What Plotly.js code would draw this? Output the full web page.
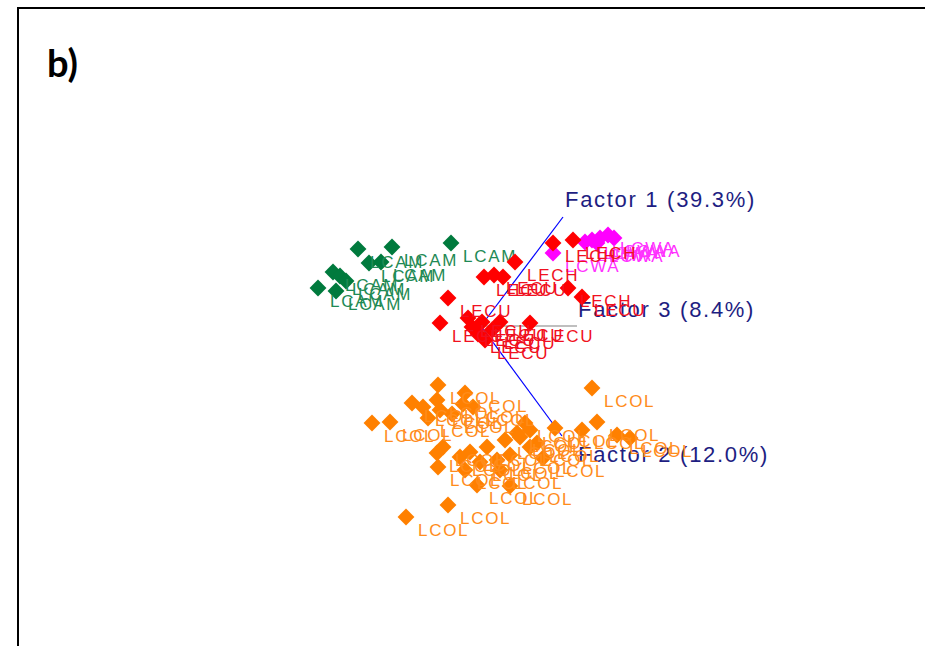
<!DOCTYPE html>
<html>
<head>
<meta charset="utf-8">
<script src="https://cdn.plot.ly/plotly-3.0.1.min.js"></script>
<style>
  html, body { margin: 0; padding: 0; background: #fff; }
  #chart { width: 925px; height: 646px; }
  .textpoint text { letter-spacing: 1.7px; }
</style>
</head>
<body>
<div id="chart"></div>
<script>
// Factor scores (projected onto the plane of the biplot)
const camLabel = 'LCAM';
const camX = [-1.23, -0.89, -0.30, -1.12, -1.00, -1.48, -1.41, -1.35, -1.63, -1.45];
const camY = [0.77, 0.79, 0.83, 0.63, 0.64, 0.54, 0.50, 0.45, 0.38, 0.35];

const ecuLabels = ['LECH', 'LECH', 'LECH', 'LECU', 'LECU', 'LECU', 'LECH', 'LECU', 'LECU', 'LECU', 'LECU',
                   'LECU', 'LECU', 'LECU', 'LECU', 'LECU', 'LECU', 'LECU'];
const ecuX = [0.72, 0.92, 0.34, 0.03, 0.13, 0.22, 0.87, 1.01, -0.33, -0.41, 0.49,
              -0.13, -0.09, -0.03, 0.04, 0.11, 0.19, 0.01];
const ecuY = [0.83, 0.86, 0.64, 0.49, 0.51, 0.49, 0.38, 0.29, 0.28, 0.03, 0.03,
              0.08, -0.01, -0.08, -0.14, -0.04, 0.04, 0.04];

const waLabel = 'LCWA';
const waX = [0.72, 1.04, 1.11, 1.19, 1.27, 1.33, 1.16];
const waY = [0.73, 0.84, 0.86, 0.88, 0.91, 0.88, 0.83];

const colLabel = 'LCOL';
const colX = [-0.43, -0.16, -0.69, -0.58, -0.44, -0.41, -0.08, -0.18, -0.29, -1.09, -0.91, -0.53,
              -0.38, -0.44, -0.43, -0.21, -0.11, 0.06, 0.16, -0.04, 0.29, -0.33, -0.75, 0.36,
              0.49, 0.39, 0.56, 0.49, 0.62, 0.74, 1.01, 1.11, 1.16, 1.36, 1.49, 0.44, 0.24,
              0.29, -0.16, 0.19, -0.01];
const colY = [-0.59, -0.67, -0.77, -0.81, -0.74, -0.84, -0.81, -0.78, -0.88, -0.97, -0.96, -0.92,
              -1.21, -1.27, -1.41, -1.31, -1.26, -1.21, -1.34, -1.59, -1.60, -1.79, -1.91, -1.07,
              -1.04, -1.11, -1.17, -1.21, -1.32, -1.02, -1.04, -0.62, -0.96, -1.09, -1.12, -0.97, -1.14,
              -1.29, -1.44, -1.44, -1.36];

// Factor axes (loading directions) and their labels
const factorNames = ['Factor 1 (39.3%)', 'Factor 2 (12.0%)', 'Factor 3 (8.4%)'];
const factorEndX = [0.82, 0.81, 0.96];
const factorEndY = [1.09, -1.10, 0.00];

// ---- styling ----
const FONT = '"Liberation Sans", Arial, sans-serif';
const LABEL_DX = 0.12, LABEL_DY = -0.06;           // point label offset (data units)
const FACTOR_LABEL_OFFSET = [[0.02, 0.16], [0.16, -0.20], [0.01, 0.15]];
const factorLineColors = ['#0000ff', '#0000ff', '#808080'];

const traces = [];

// axis lines
factorNames.forEach((name, i) => {
  traces.push({
    type: 'scatter', mode: 'lines',
    x: [0, factorEndX[i]], y: [0, factorEndY[i]],
    line: { color: factorLineColors[i], width: 1.2 },
    hoverinfo: 'skip', showlegend: false
  });
});
// axis labels
traces.push({
  type: 'scatter', mode: 'text',
  x: factorEndX.map((v, i) => v + FACTOR_LABEL_OFFSET[i][0]),
  y: factorEndY.map((v, i) => v + FACTOR_LABEL_OFFSET[i][1]),
  text: factorNames,
  textposition: 'middle right',
  textfont: { family: FONT, size: 22, color: '#1e1e82' },
  hoverinfo: 'skip', showlegend: false
});

function addGroup(xs, ys, labels, color, textColor) {
  traces.push({
    type: 'scatter', mode: 'markers',
    x: xs, y: ys,
    marker: { symbol: 'diamond', size: 13, color: color, line: { width: 0 } },
    hoverinfo: 'skip', showlegend: false
  });
  traces.push({
    type: 'scatter', mode: 'text',
    x: xs.map(v => v + LABEL_DX), y: ys.map(v => v + LABEL_DY),
    text: Array.isArray(labels) ? labels : xs.map(() => labels),
    textposition: 'bottom right',
    textfont: { family: FONT, size: 17, color: textColor },
    hoverinfo: 'skip', showlegend: false
  });
}

addGroup(camX, camY, camLabel, '#007a3d', '#1f8a55');
addGroup(waX, waY, waLabel, '#ff00ff', '#ff33ff');
addGroup(ecuX, ecuY, ecuLabels, '#ff0000', '#f01020');
addGroup(colX, colY, colLabel, '#ff8000', '#ff8c1a');

const hidden = {
  showgrid: false, zeroline: false, showline: false, showticklabels: false,
  ticks: '', fixedrange: true
};

const layout = {
  width: 925, height: 646,
  margin: { l: 0, r: 0, t: 0, b: 0 },
  paper_bgcolor: '#ffffff', plot_bgcolor: '#ffffff',
  xaxis: Object.assign({ range: [-4.81, 4.44] }, hidden),
  yaxis: Object.assign({ range: [-3.20, 3.26] }, hidden),
  showlegend: false,
  shapes: [
    { type: 'line', xref: 'paper', yref: 'paper', x0: 18 / 925, x1: 18 / 925, y0: 0, y1: 1 - 8 / 646,
      line: { color: '#000', width: 2 } },
    { type: 'line', xref: 'paper', yref: 'paper', x0: 17 / 925, x1: 1, y0: 1 - 8 / 646, y1: 1 - 8 / 646,
      line: { color: '#000', width: 2 } }
  ],
  annotations: [
    { text: '<b>b)</b>', xref: 'paper', yref: 'paper', x: 45 / 925, y: 1 - 62 / 646,
      xanchor: 'left', yanchor: 'middle', showarrow: false,
      font: { family: 'Lato, "Liberation Sans", sans-serif', size: 38, color: '#000' } }
  ]
};

Plotly.newPlot('chart', traces, layout, { staticPlot: true, displayModeBar: false });
</script>
</body>
</html>
